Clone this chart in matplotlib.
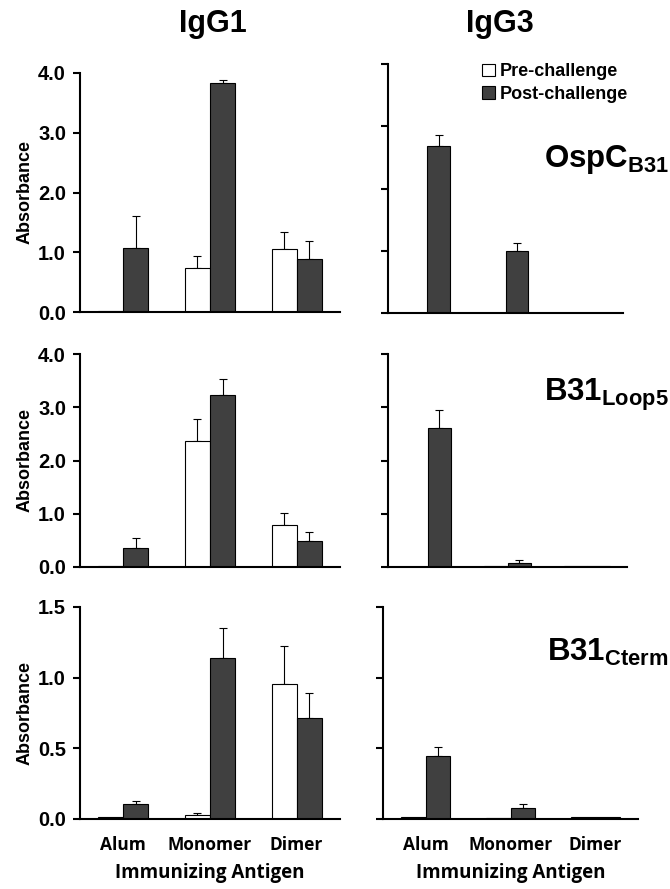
import numpy as np
import matplotlib
matplotlib.use("Agg")
import matplotlib.pyplot as plt
from matplotlib.patches import Patch

plt.rcParams.update({
    "font.family": ["Liberation Sans", "DejaVu Sans"],
    "font.weight": "bold",
    "mathtext.fontset": "custom",
    "mathtext.bf": "Liberation Sans:bold",
    "mathtext.rm": "Liberation Sans:bold",
    "axes.linewidth": 1.5,
})

# Data
groups = ["Alum", "Monomer", "Dimer"]
series = ["Pre-challenge", "Post-challenge"]
isotypes = ["IgG1", "IgG3"]
antigens = [r"$\mathbf{OspC_{B31}}$", r"$\mathbf{B31_{Loop5}}$", r"$\mathbf{B31_{Cterm}}$"]

# rows: OspC, Loop5, Cterm ; cols: IgG1, IgG3
pre_vals = [
    [[0.01, 0.74, 1.05], [0.005, 0.005, 0.005]],
    [[0.01, 2.37, 0.79], [0.005, 0.01, 0.01]],
    [[0.012, 0.028, 0.955], [0.015, 0.01, 0.015]],
]
pre_err = [
    [[0.0, 0.20, 0.29], [0.0, 0.0, 0.0]],
    [[0.0, 0.41, 0.22], [0.0, 0.0, 0.0]],
    [[0.0, 0.012, 0.27], [0.0, 0.0, 0.0]],
]
post_vals = [
    [[1.07, 3.83, 0.89], [2.68, 1.00, 0.005]],
    [[0.36, 3.23, 0.49], [2.61, 0.075, 0.01]],
    [[0.106, 1.14, 0.715], [0.446, 0.078, 0.012]],
]
post_err = [
    [[0.54, 0.05, 0.30], [0.18, 0.13, 0.0]],
    [[0.18, 0.30, 0.17], [0.34, 0.06, 0.0]],
    [[0.021, 0.21, 0.18], [0.06, 0.03, 0.0]],
]
y_max = [4.0, 4.0, 1.5]
y_ticks = [[0, 1, 2, 3, 4], [0, 1, 2, 3, 4], [0, 0.5, 1.0, 1.5]]

W, H = 670, 889
fig = plt.figure(figsize=(W / 100, H / 100), dpi=100)

# axes boxes in pixels (left, top, right, bottom)
boxes = [
    [(80, 73, 340, 312), (388, 64, 623, 313)],
    [(80, 354, 340, 567), (388, 354, 627, 567)],
    [(80, 607, 340, 819), (383, 607, 638, 819)],
]

post_color = "#404040"
bw = 0.29
x = np.arange(len(groups))
sub_font = ["Open Sans", "DejaVu Sans"]

for r in range(3):
    for c in range(2):
        l, t, rr, b = boxes[r][c]
        ax = fig.add_axes([l / W, 1 - b / H, (rr - l) / W, (b - t) / H])
        pv = np.array(pre_vals[r][c])
        qv = np.array(post_vals[r][c])
        ax.bar(x - bw / 2, pv, bw, color="white", edgecolor="black", linewidth=0.8, zorder=2)
        ax.bar(x + bw / 2, qv, bw, color=post_color, edgecolor="black", linewidth=0.8, zorder=2)
        pe = np.array(pre_err[r][c])
        qe = np.array(post_err[r][c])
        m = pe > 0
        ax.errorbar((x - bw / 2)[m], pv[m], yerr=[np.zeros(m.sum()), pe[m]], fmt="none",
                    ecolor="black", elinewidth=0.8, capsize=3, capthick=0.8, zorder=1)
        m = qe > 0
        ax.errorbar((x + bw / 2)[m], qv[m], yerr=[np.zeros(m.sum()), qe[m]], fmt="none",
                    ecolor="black", elinewidth=0.8, capsize=3, capthick=0.8, zorder=1)
        ax.set_xlim(-0.5, 2.5)
        ax.set_ylim(0, y_max[r])
        ax.set_yticks(y_ticks[r])
        ax.spines["top"].set_visible(False)
        ax.spines["right"].set_visible(False)
        ax.tick_params(axis="y", direction="out", length=5, width=1.5, pad=5)
        ax.tick_params(axis="x", length=0, pad=12)
        if c == 0:
            ax.set_yticklabels([f"{v:.1f}" for v in y_ticks[r]], fontsize=14.5, fontweight="bold")
            ax.set_ylabel("Absorbance", fontsize=13, fontweight="bold", labelpad=3)
        else:
            ax.set_yticklabels([])
        if r == 2:
            ax.set_xticks(x)
            ax.set_xticklabels(groups, fontsize=12.5, fontweight="bold", family=sub_font)
            ax.set_xlabel("Immunizing Antigen", fontsize=13.5, fontweight="bold",
                          family=sub_font, labelpad=7)
        else:
            ax.set_xticks([])
        if r == 0 and c == 1:
            handles = [Patch(facecolor="white", edgecolor="black", linewidth=0.8),
                       Patch(facecolor=post_color, edgecolor="black", linewidth=0.8)]
            ax.legend(handles, series, loc="center left",
                      bbox_to_anchor=(482 / W, 1 - 83 / H), bbox_transform=fig.transFigure,
                      frameon=False, borderpad=0, borderaxespad=0, handlelength=0.7,
                      handleheight=0.7, handletextpad=0.3, labelspacing=0.3,
                      prop={"size": 13, "weight": "bold"})

# column titles
fig.text(213 / W, 1 - 24 / H, isotypes[0], ha="center", va="center", fontsize=22, fontweight="bold")
fig.text(500 / W, 1 - 24 / H, isotypes[1], ha="center", va="center", fontsize=22, fontweight="bold")

# antigen labels
label_y = [160, 395, 652]
for r in range(3):
    fig.text(669 / W, 1 - label_y[r] / H, antigens[r], ha="right", va="center", fontsize=22.5)

fig.savefig("out.png", dpi=100)
